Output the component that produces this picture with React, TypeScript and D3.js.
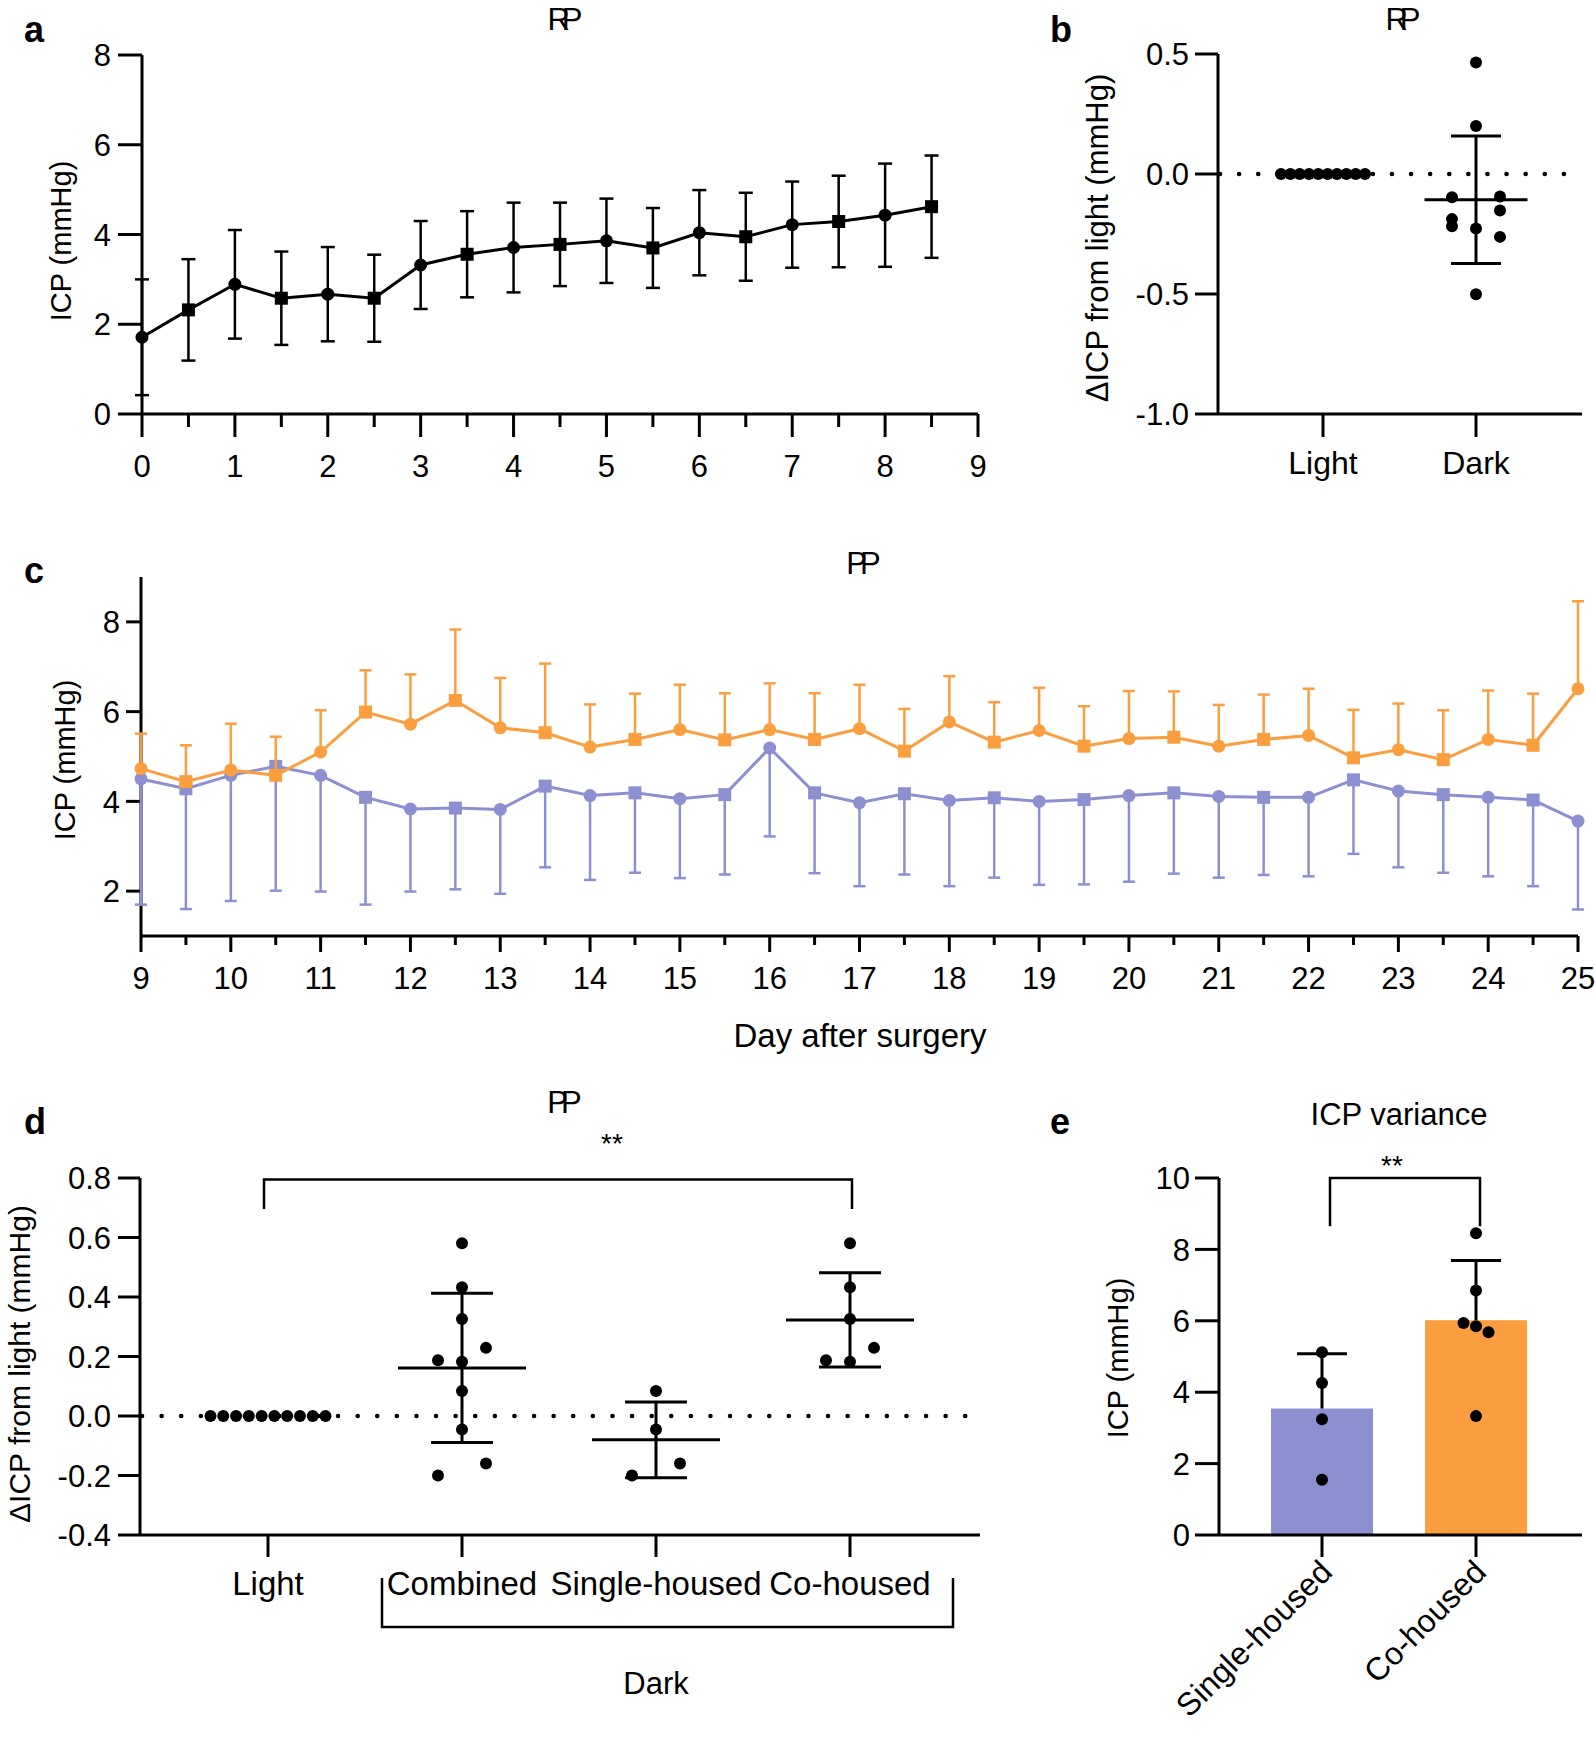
import React from 'react';
import * as d3 from 'd3';

const FONT = "'Liberation Sans', Arial, Helvetica, sans-serif";
const ORANGE = '#FA9E3F';
const BLUE = '#8C8FD0';

// ---------- Panel a ----------
const aDays = [0, 0.5, 1, 1.5, 2, 2.5, 3, 3.5, 4, 4.5, 5, 5.5, 6, 6.5, 7, 7.5, 8, 8.5];
const aMean = [1.71, 2.32, 2.89, 2.58, 2.67, 2.58, 3.32, 3.56, 3.71, 3.78, 3.86, 3.70, 4.04, 3.95, 4.22, 4.29, 4.43, 4.62];
const aSD = [1.29, 1.13, 1.21, 1.04, 1.05, 0.97, 0.98, 0.96, 1.0, 0.93, 0.94, 0.89, 0.95, 0.98, 0.96, 1.02, 1.15, 1.14];
const aXTicks = [0, 1, 2, 3, 4, 5, 6, 7, 8, 9];
const aXMinor = [0.5, 1.5, 2.5, 3.5, 4.5, 5.5, 6.5, 7.5, 8.5];
const aYTicks = [0, 2, 4, 6, 8];

// ---------- Panel b ----------
const bCategories = ['Light', 'Dark'];
const bLight = [0, 0, 0, 0, 0, 0, 0, 0, 0, 0];
const bDark = [0.465, 0.2, -0.094, -0.097, -0.152, -0.188, -0.218, -0.227, -0.262, -0.501];
const bYTicks = [-1.0, -0.5, 0.0, 0.5];

// ---------- Panel c ----------
const cDays = [9, 9.5, 10, 10.5, 11, 11.5, 12, 12.5, 13, 13.5, 14, 14.5, 15, 15.5, 16, 16.5, 17, 17.5, 18, 18.5, 19, 19.5, 20, 20.5, 21, 21.5, 22, 22.5, 23, 23.5, 24, 24.5, 25];
const cCoMean = [4.73, 4.44, 4.70, 4.58, 5.10, 5.99, 5.72, 6.25, 5.64, 5.53, 5.21, 5.38, 5.60, 5.37, 5.60, 5.38, 5.62, 5.12, 5.77, 5.32, 5.58, 5.23, 5.40, 5.43, 5.23, 5.38, 5.47, 4.97, 5.15, 4.93, 5.38, 5.25, 6.51];
const cCoSD = [0.78, 0.81, 1.03, 0.86, 0.93, 0.93, 1.11, 1.58, 1.11, 1.54, 0.95, 1.02, 1.00, 1.04, 1.03, 1.03, 0.98, 0.94, 1.02, 0.89, 0.95, 0.89, 1.06, 1.02, 0.92, 1.00, 1.04, 1.07, 1.03, 1.10, 1.09, 1.15, 1.95];
const cSingleMean = [4.50, 4.28, 4.58, 4.78, 4.58, 4.09, 3.83, 3.85, 3.82, 4.34, 4.13, 4.19, 4.06, 4.15, 5.19, 4.19, 3.97, 4.17, 4.02, 4.08, 4.00, 4.04, 4.13, 4.19, 4.11, 4.09, 4.09, 4.48, 4.23, 4.15, 4.09, 4.03, 3.56];
const cSingleSD = [2.80, 2.68, 2.80, 2.77, 2.59, 2.39, 1.84, 1.81, 1.88, 1.81, 1.88, 1.78, 1.77, 1.78, 1.97, 1.79, 1.86, 1.80, 1.91, 1.78, 1.86, 1.89, 1.92, 1.80, 1.81, 1.73, 1.76, 1.65, 1.70, 1.74, 1.76, 1.92, 1.97];
const cXTicks = [9, 10, 11, 12, 13, 14, 15, 16, 17, 18, 19, 20, 21, 22, 23, 24, 25];
const cXMinor = [9.5, 10.5, 11.5, 12.5, 13.5, 14.5, 15.5, 16.5, 17.5, 18.5, 19.5, 20.5, 21.5, 22.5, 23.5, 24.5];
const cYTicks = [2, 4, 6, 8];

// ---------- Panel d ----------
const dCategories = ['Light', 'Combined', 'Single-housed', 'Co-housed'];
const dLight = [0, 0, 0, 0, 0, 0, 0, 0, 0, 0];
const dCombined = [0.581, 0.433, 0.326, 0.229, 0.187, 0.182, 0.084, -0.045, -0.16, -0.2];
const dSingle = [0.084, -0.045, -0.16, -0.2];
const dCo = [0.581, 0.433, 0.326, 0.229, 0.187, 0.182];
const dYTicks = [-0.4, -0.2, 0.0, 0.2, 0.4, 0.6, 0.8];

// ---------- Panel e ----------
const eCategories = ['Single-housed', 'Co-housed'];
const eSingle = [5.12, 4.26, 3.24, 1.55];
const eCo = [8.45, 6.85, 5.94, 5.85, 5.68, 3.33];
const eYTicks = [0, 2, 4, 6, 8, 10];

// beeswarm-like horizontal offsets computed from values
function swarm(values: number[], y: (v: number) => number, step: number, maxWidth: number, T = 12.5) {
  const idx = values.map((_, i) => i).sort((a, b) => values[b] - values[a]);
  const off = new Array(values.length).fill(0);
  let i = 0;
  while (i < idx.length) {
    const anchor = y(values[idx[i]]);
    const row = [idx[i]];
    let j = i + 1;
    while (j < idx.length && Math.abs(y(values[idx[j]]) - anchor) < T) {
      row.push(idx[j]);
      j++;
    }
    const k = row.length;
    if (k === 2) {
      off[row[0]] = step;
      off[row[1]] = -step;
    } else if (k > 1) {
      const st = Math.min(step, maxWidth / (k - 1));
      row.forEach((id, r) => (off[id] = (r - (k - 1) / 2) * st));
    }
    i = j;
  }
  return off;
}

const txt = (extra: any = {}) => ({ fontFamily: FONT, fill: '#000', ...extra });

function YTitle({ x, y, text, size = 29 }: { x: number; y: number; text: string; size?: number }) {
  return (
    <text transform={`translate(${x},${y}) rotate(-90)`} textAnchor="middle" dy="0.35em" {...txt({ fontSize: size })}>
      {text}
    </text>
  );
}

function Marker({ x, y, day, color }: { x: number; y: number; day: number; color: string }) {
  if (Number.isInteger(day)) return <circle cx={x} cy={y} r={6.5} fill={color} />;
  return <rect x={x - 6.5} y={y - 6.5} width={13} height={13} fill={color} />;
}

function PanelA() {
  const x = d3.scaleLinear().domain([0, 9]).range([142, 978]);
  const y = d3.scaleLinear().domain([0, 8]).range([414, 55]);
  const line = d3.line<number>().x((_, i) => x(aDays[i])).y((d) => y(d));
  return (
    <g>
      <text x={24} y={42} {...txt({ fontSize: 36, fontWeight: 'bold' })}>a</text>
      <text x={561} y={30} textAnchor="middle" letterSpacing={-8} {...txt({ fontSize: 31 })}>RP</text>
      <YTitle x={61} y={241} text="ICP (mmHg)" />
      <line x1={x(0)} x2={x(0)} y1={y(0)} y2={y(8)} stroke="#000" strokeWidth={3} />
      <line x1={x(0)} x2={x(9)} y1={y(0)} y2={y(0)} stroke="#000" strokeWidth={3} />
      {aYTicks.map((t) => (
        <g key={t}>
          <line x1={x(0) - 24} x2={x(0)} y1={y(t)} y2={y(t)} stroke="#000" strokeWidth={3} />
          <text x={x(0) - 31} y={y(t)} dy="0.36em" textAnchor="end" {...txt({ fontSize: 31 })}>{t}</text>
        </g>
      ))}
      {aXTicks.map((t) => (
        <g key={t}>
          <line x1={x(t)} x2={x(t)} y1={y(0)} y2={y(0) + 23} stroke="#000" strokeWidth={3} />
          <text x={x(t)} y={477} textAnchor="middle" {...txt({ fontSize: 31 })}>{t}</text>
        </g>
      ))}
      {aXMinor.map((t) => (
        <line key={t} x1={x(t)} x2={x(t)} y1={y(0)} y2={y(0) + 13} stroke="#000" strokeWidth={3} />
      ))}
      {aDays.map((d, i) => (
        <g key={d} stroke="#000" strokeWidth={2.5}>
          <line x1={x(d)} x2={x(d)} y1={y(aMean[i] - aSD[i])} y2={y(aMean[i] + aSD[i])} />
          <line x1={x(d) - 7} x2={x(d) + 7} y1={y(aMean[i] + aSD[i])} y2={y(aMean[i] + aSD[i])} />
          <line x1={x(d) - 7} x2={x(d) + 7} y1={y(aMean[i] - aSD[i])} y2={y(aMean[i] - aSD[i])} />
        </g>
      ))}
      <path d={line(aMean) || ''} fill="none" stroke="#000" strokeWidth={3} />
      {aDays.map((d, i) => (
        <Marker key={d} x={x(d)} y={y(aMean[i])} day={d} color="#000" />
      ))}
    </g>
  );
}

function ScatterGroup({ vals, cx, y, step, maxWidth, meanW, capW, showStats = true }: any) {
  const off = swarm(vals, y, step, maxWidth);
  const m = d3.mean(vals) as number;
  const sd = (d3.deviation(vals) as number) || 0;
  return (
    <g>
      {vals.map((v: number, i: number) => (
        <circle key={i} cx={cx + off[i]} cy={y(v)} r={6} fill="#000" />
      ))}
      {showStats && (
        <g stroke="#000" strokeWidth={3}>
          <line x1={cx} x2={cx} y1={y(m - sd)} y2={y(m + sd)} />
          <line x1={cx - meanW / 2} x2={cx + meanW / 2} y1={y(m)} y2={y(m)} />
          <line x1={cx - capW / 2} x2={cx + capW / 2} y1={y(m + sd)} y2={y(m + sd)} />
          <line x1={cx - capW / 2} x2={cx + capW / 2} y1={y(m - sd)} y2={y(m - sd)} />
        </g>
      )}
    </g>
  );
}

function PanelB() {
  const x = d3.scalePoint<string>().domain(bCategories).range([1323, 1476]);
  const y = d3.scaleLinear().domain([-1, 0.5]).range([414, 54]);
  const x0 = 1218;
  return (
    <g>
      <text x={1050} y={42} {...txt({ fontSize: 36, fontWeight: 'bold' })}>b</text>
      <text x={1399} y={30} textAnchor="middle" letterSpacing={-8} {...txt({ fontSize: 31 })}>RP</text>
      <YTitle x={1097} y={238} text="ΔICP from light (mmHg)" size={31} />
      <line x1={x0} x2={x0} y1={y(-1)} y2={y(0.5)} stroke="#000" strokeWidth={3} />
      <line x1={x0} x2={1582} y1={y(-1)} y2={y(-1)} stroke="#000" strokeWidth={3} />
      {bYTicks.map((t) => (
        <g key={t}>
          <line x1={x0 - 23} x2={x0} y1={y(t)} y2={y(t)} stroke="#000" strokeWidth={3} />
          <text x={x0 - 29} y={y(t)} dy="0.36em" textAnchor="end" {...txt({ fontSize: 31 })}>{t.toFixed(1)}</text>
        </g>
      ))}
      {bCategories.map((c) => (
        <g key={c}>
          <line x1={x(c)!} x2={x(c)!} y1={y(-1)} y2={y(-1) + 23} stroke="#000" strokeWidth={3} />
          <text x={x(c)!} y={474} textAnchor="middle" {...txt({ fontSize: 32 })}>{c}</text>
        </g>
      ))}
      <line x1={x0 + 2} x2={1572} y1={y(0)} y2={y(0)} stroke="#000" strokeWidth={4.5} strokeLinecap="round" strokeDasharray="0.1 19" />
      <ScatterGroup vals={bLight} cx={x('Light')!} y={y} step={24} maxWidth={84} meanW={0} capW={0} showStats={false} />
      <ScatterGroup vals={bDark} cx={x('Dark')!} y={y} step={24} maxWidth={84} meanW={103} capW={50} />
    </g>
  );
}

function PanelC() {
  const x = d3.scaleLinear().domain([9, 25]).range([141, 1578]);
  const y = d3.scaleLinear().domain([1, 9]).range([936, 577]);
  const line = d3.line<number>().x((_, i) => x(cDays[i])).y((d) => y(d));
  return (
    <g>
      <text x={24} y={583} {...txt({ fontSize: 36, fontWeight: 'bold' })}>c</text>
      <text x={860} y={574} textAnchor="middle" letterSpacing={-7} {...txt({ fontSize: 31 })}>PP</text>
      <YTitle x={65} y={760} text="ICP (mmHg)" />
      <text x={860} y={1047} textAnchor="middle" {...txt({ fontSize: 33 })}>Day after surgery</text>
      <line x1={x(9)} x2={x(9)} y1={y(1)} y2={y(9)} stroke="#000" strokeWidth={3} />
      <line x1={x(9)} x2={x(25)} y1={y(1)} y2={y(1)} stroke="#000" strokeWidth={3} />
      {cYTicks.map((t) => (
        <g key={t}>
          <line x1={x(9) - 15} x2={x(9)} y1={y(t)} y2={y(t)} stroke="#000" strokeWidth={3} />
          <text x={x(9) - 21} y={y(t)} dy="0.36em" textAnchor="end" {...txt({ fontSize: 31 })}>{t}</text>
        </g>
      ))}
      {cXTicks.map((t) => (
        <g key={t}>
          <line x1={x(t)} x2={x(t)} y1={y(1)} y2={y(1) + 16} stroke="#000" strokeWidth={3} />
          <text x={x(t)} y={989} textAnchor="middle" {...txt({ fontSize: 31 })}>{t}</text>
        </g>
      ))}
      {cXMinor.map((t) => (
        <line key={t} x1={x(t)} x2={x(t)} y1={y(1)} y2={y(1) + 9} stroke="#000" strokeWidth={3} />
      ))}
      {cDays.map((d, i) => (
        <g key={d} stroke={BLUE} strokeWidth={2.5}>
          <line x1={x(d)} x2={x(d)} y1={y(cSingleMean[i])} y2={y(cSingleMean[i] - cSingleSD[i])} />
          <line x1={x(d) - 6} x2={x(d) + 6} y1={y(cSingleMean[i] - cSingleSD[i])} y2={y(cSingleMean[i] - cSingleSD[i])} />
        </g>
      ))}
      <path d={line(cSingleMean) || ''} fill="none" stroke={BLUE} strokeWidth={3} />
      {cDays.map((d, i) => (
        <Marker key={d} x={x(d)} y={y(cSingleMean[i])} day={d} color={BLUE} />
      ))}
      {cDays.map((d, i) => (
        <g key={d} stroke={ORANGE} strokeWidth={2.5}>
          <line x1={x(d)} x2={x(d)} y1={y(cCoMean[i])} y2={y(cCoMean[i] + cCoSD[i])} />
          <line x1={x(d) - 6} x2={x(d) + 6} y1={y(cCoMean[i] + cCoSD[i])} y2={y(cCoMean[i] + cCoSD[i])} />
        </g>
      ))}
      <path d={line(cCoMean) || ''} fill="none" stroke={ORANGE} strokeWidth={3} />
      {cDays.map((d, i) => (
        <Marker key={d} x={x(d)} y={y(cCoMean[i])} day={d} color={ORANGE} />
      ))}
    </g>
  );
}

function PanelD() {
  const x = d3.scalePoint<string>().domain(dCategories).range([268, 850]);
  const y = d3.scaleLinear().domain([-0.4, 0.8]).range([1535, 1178]);
  const x0 = 140;
  const groups = [dLight, dCombined, dSingle, dCo];
  return (
    <g>
      <text x={24} y={1134} {...txt({ fontSize: 36, fontWeight: 'bold' })}>d</text>
      <text x={561} y={1113} textAnchor="middle" letterSpacing={-7} {...txt({ fontSize: 31 })}>PP</text>
      <YTitle x={19} y={1364} text="ΔICP from light (mmHg)" size={30} />
      <line x1={x0} x2={x0} y1={y(-0.4)} y2={y(0.8)} stroke="#000" strokeWidth={3} />
      <line x1={x0} x2={980} y1={y(-0.4)} y2={y(-0.4)} stroke="#000" strokeWidth={3} />
      {dYTicks.map((t) => (
        <g key={t}>
          <line x1={x0 - 22} x2={x0} y1={y(t)} y2={y(t)} stroke="#000" strokeWidth={3} />
          <text x={x0 - 29} y={y(t)} dy="0.36em" textAnchor="end" {...txt({ fontSize: 31 })}>{t.toFixed(1)}</text>
        </g>
      ))}
      {dCategories.map((c) => (
        <g key={c}>
          <line x1={x(c)!} x2={x(c)!} y1={y(-0.4)} y2={y(-0.4) + 22} stroke="#000" strokeWidth={3} />
          <text x={x(c)!} y={1595} textAnchor="middle" {...txt({ fontSize: 33 })}>{c}</text>
        </g>
      ))}
      <line x1={x0 + 2} x2={970} y1={y(0)} y2={y(0)} stroke="#000" strokeWidth={4.5} strokeLinecap="round" strokeDasharray="0.1 19.5" />
      {groups.map((g, i) => (
        <ScatterGroup key={i} vals={g} cx={x(dCategories[i])!} y={y} step={24} maxWidth={115} meanW={128} capW={62} showStats={i > 0} />
      ))}
      <path
        d={`M${x('Light')! - 4},${y(0.696)}V${y(0.795)}H${x('Co-housed')! + 2}V${y(0.696)}`}
        fill="none"
        stroke="#000"
        strokeWidth={2.5}
      />
      <text x={612} y={1153} textAnchor="middle" {...txt({ fontSize: 28 })}>**</text>
      <path
        d={`M${x('Combined')! - 80},1578V1627H${x('Co-housed')! + 103}V1578`}
        fill="none"
        stroke="#000"
        strokeWidth={2.5}
      />
      <text x={x('Single-housed')!} y={1694} textAnchor="middle" {...txt({ fontSize: 31 })}>Dark</text>
    </g>
  );
}

function PanelE() {
  const x = d3.scalePoint<string>().domain(eCategories).range([1322, 1476]);
  const y = d3.scaleLinear().domain([0, 10]).range([1535, 1178]);
  const x0 = 1219;
  const groups = [eSingle, eCo];
  const colors = [BLUE, ORANGE];
  const barW = 102;
  return (
    <g>
      <text x={1050} y={1134} {...txt({ fontSize: 36, fontWeight: 'bold' })}>e</text>
      <text x={1399} y={1125} textAnchor="middle" {...txt({ fontSize: 31 })}>ICP variance</text>
      <YTitle x={1118} y={1358} text="ICP (mmHg)" />
      {groups.map((g, i) => {
        const cx = x(eCategories[i])!;
        const m = d3.mean(g) as number;
        const sd = d3.deviation(g) as number;
        const off = swarm(g, y, 12.5, 30);
        return (
          <g key={i}>
            <rect x={cx - barW / 2} y={y(m)} width={barW} height={y(0) - y(m)} fill={colors[i]} />
            <g stroke="#000" strokeWidth={3}>
              <line x1={cx} x2={cx} y1={y(m)} y2={y(m + sd)} />
              <line x1={cx - 25} x2={cx + 25} y1={y(m + sd)} y2={y(m + sd)} />
            </g>
            {g.map((v, j) => (
              <circle key={j} cx={cx + off[j]} cy={y(v)} r={6} fill="#000" />
            ))}
          </g>
        );
      })}
      <line x1={x0} x2={x0} y1={y(0)} y2={y(10)} stroke="#000" strokeWidth={3} />
      <line x1={x0} x2={1582} y1={y(0)} y2={y(0)} stroke="#000" strokeWidth={3} />
      {eYTicks.map((t) => (
        <g key={t}>
          <line x1={x0 - 24} x2={x0} y1={y(t)} y2={y(t)} stroke="#000" strokeWidth={3} />
          <text x={x0 - 29} y={y(t)} dy="0.36em" textAnchor="end" {...txt({ fontSize: 31 })}>{t}</text>
        </g>
      ))}
      {eCategories.map((c) => (
        <g key={c}>
          <line x1={x(c)!} x2={x(c)!} y1={y(0)} y2={y(0) + 22} stroke="#000" strokeWidth={3} />
          <text transform={`translate(${x(c)! + 12},1574) rotate(-45)`} textAnchor="end" {...txt({ fontSize: 32 })}>{c}</text>
        </g>
      ))}
      <path
        d={`M${x('Single-housed')! + 8},${y(8.65)}V${y(10.0)}H${x('Co-housed')! + 4}V${y(8.65)}`}
        fill="none"
        stroke="#000"
        strokeWidth={2.5}
      />
      <text x={1392} y={1175} textAnchor="middle" {...txt({ fontSize: 28 })}>**</text>
    </g>
  );
}

export default function App() {
  return (
    <svg
      width={1595}
      height={1739}
      viewBox="0 0 1595 1739"
      style={{ position: 'absolute', left: 0, top: 0, background: '#fff' }}
    >
      <rect width={1595} height={1739} fill="#fff" />
      <PanelA />
      <PanelB />
      <PanelC />
      <PanelD />
      <PanelE />
    </svg>
  );
}
